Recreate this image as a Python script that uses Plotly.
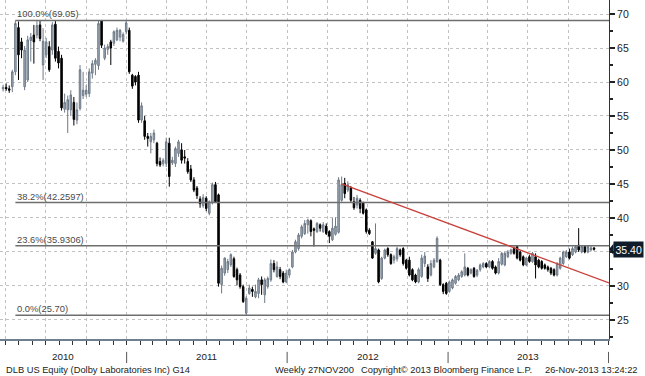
import plotly.graph_objects as go
import pandas as pd

# ---------------- data (weekly OHLC) ----------------
END_DATE = "2013-11-29"

OPEN = [
    59.0, 59.2, 59.0, 59.3, 61.5, 68.0, 65.9, 59.3, 60.3, 66.1, 66.9, 66.9, 68.4, 62.5, 64.0, 65.2,
    64.7, 68.5, 64.5, 63.5, 56.0, 55.9, 55.9, 57.0, 54.4, 56.1, 58.0, 58.2, 58.3, 61.3, 62.6, 62.4,
    69.0, 63.5, 64.8, 65.9, 65.7, 66.2, 66.6, 66.0, 67.4, 67.6, 61.0, 60.8, 61.0, 54.4, 54.3, 52.0,
    51.2, 51.5, 51.0, 48.3, 48.0, 48.0, 51.0, 48.1, 48.0, 49.5, 50.0, 49.0, 48.3, 47.2, 45.6, 44.4,
    42.8, 41.8, 42.9, 40.7, 42.2, 44.9, 43.4, 30.2, 31.9, 32.4, 33.1, 34.0, 32.4, 31.6, 29.9, 26.0,
    28.9, 29.5, 28.4, 28.9, 30.9, 28.7, 29.9, 30.9, 33.3, 31.4, 32.4, 31.9, 30.6, 31.6, 32.8, 35.0,
    35.5, 37.3, 37.7, 39.0, 39.6, 38.4, 38.0, 39.0, 38.0, 38.8, 38.0, 36.8, 37.6, 37.9, 42.6, 45.1,
    44.1, 44.4, 42.4, 41.9, 42.6, 42.2, 41.2, 38.2, 36.5, 34.8, 35.3, 31.1, 34.1, 35.5, 34.6, 33.8,
    34.0, 35.3, 35.5, 33.8, 33.8, 32.4, 31.6, 30.6, 31.4, 33.3, 32.8, 31.6, 32.8, 33.6, 33.8, 30.2,
    30.4, 29.2, 29.7, 30.4, 30.9, 31.4, 31.6, 32.6, 31.9, 32.6, 31.6, 32.4, 32.8, 33.3, 32.8, 33.6,
    32.8, 31.9, 33.2, 33.1, 34.3, 34.8, 35.5, 35.8, 35.0, 34.3, 33.1, 34.3, 33.6, 34.3, 33.8, 33.6,
    33.1, 32.8, 32.6, 32.4, 31.6, 32.6, 33.3, 34.3, 35.0, 34.6, 35.0, 36.0, 35.0, 35.8, 35.0, 35.3,
    35.6,
]
HIGH = [
    59.6, 59.8, 59.5, 61.8, 69.05, 68.9, 66.5, 65.3, 66.8, 67.2, 68.4, 69.05, 69.0, 67.9, 66.5, 66.0,
    68.8, 69.05, 65.2, 64.0, 58.3, 58.0, 58.8, 57.8, 57.0, 62.5, 61.5, 59.5, 62.0, 63.2, 63.5, 69.05,
    69.05, 65.5, 65.6, 66.2, 67.6, 68.0, 67.8, 67.3, 69.05, 68.0, 61.2, 61.0, 61.5, 57.0, 55.0, 52.5,
    52.5, 53.0, 51.2, 48.9, 48.8, 51.8, 51.8, 49.0, 50.5, 51.5, 51.0, 50.0, 48.8, 47.8, 46.0, 44.7,
    43.2, 43.5, 43.2, 42.6, 45.2, 45.3, 43.6, 33.0, 34.2, 34.0, 34.8, 34.3, 32.7, 31.9, 30.2, 28.5,
    30.2, 29.9, 30.2, 31.2, 31.4, 31.2, 31.4, 33.9, 33.8, 33.6, 32.8, 32.2, 32.4, 32.6, 35.3, 36.8,
    37.8, 39.0, 39.7, 39.9, 39.8, 38.6, 39.4, 39.2, 39.4, 39.2, 38.2, 40.0, 40.1, 46.0, 46.1, 45.9,
    45.4, 44.7, 43.1, 43.4, 42.9, 42.4, 41.4, 38.5, 36.6, 39.2, 35.5, 34.3, 35.5, 35.7, 34.8, 34.6,
    35.8, 35.5, 35.7, 34.0, 34.3, 32.6, 31.8, 32.7, 34.6, 35.0, 33.2, 33.8, 34.1, 37.3, 34.0, 30.4,
    30.6, 30.8, 31.1, 31.6, 31.9, 32.3, 34.8, 32.8, 32.6, 32.8, 32.5, 33.3, 33.5, 33.5, 33.8, 33.8,
    33.0, 34.1, 35.0, 35.0, 35.3, 35.5, 35.8, 36.0, 35.2, 34.5, 34.3, 34.6, 35.0, 34.8, 34.0, 33.8,
    33.3, 33.0, 32.8, 32.6, 33.5, 34.3, 35.2, 35.3, 35.5, 35.8, 36.0, 38.5, 36.0, 36.0, 36.0, 36.0,
    35.7,
]
LOW = [
    58.6, 58.7, 58.4, 58.5, 61.0, 60.3, 63.5, 58.8, 60.0, 63.0, 62.7, 66.4, 66.0, 60.3, 63.5, 61.5,
    64.0, 63.0, 62.0, 55.8, 55.5, 52.5, 55.0, 53.6, 53.8, 55.8, 57.5, 57.8, 57.8, 60.5, 61.0, 61.8,
    65.0, 63.2, 64.0, 62.5, 65.3, 66.0, 66.0, 65.8, 67.0, 61.2, 59.0, 59.5, 54.0, 54.0, 51.5, 50.5,
    49.5, 51.0, 47.6, 47.5, 47.6, 47.5, 44.6, 47.8, 47.5, 49.0, 48.0, 48.0, 46.5, 45.3, 43.8, 42.8,
    41.5, 41.5, 41.0, 40.4, 42.0, 42.2, 29.9, 28.9, 31.5, 31.9, 32.8, 31.2, 30.1, 29.6, 27.5, 25.7,
    28.7, 28.4, 28.2, 28.2, 28.7, 27.5, 29.6, 30.6, 32.0, 31.2, 31.0, 30.4, 30.4, 31.2, 32.6, 34.8,
    35.2, 37.0, 37.5, 37.7, 37.3, 35.8, 37.8, 38.0, 37.8, 37.5, 36.3, 36.6, 37.4, 37.7, 42.4, 42.9,
    43.8, 42.2, 41.2, 41.4, 40.7, 40.5, 37.7, 37.5, 34.0, 34.6, 30.4, 30.9, 33.9, 34.3, 33.1, 33.3,
    33.6, 34.3, 33.0, 32.4, 31.4, 30.7, 30.4, 30.4, 31.2, 32.8, 30.6, 31.4, 32.6, 33.4, 30.0, 28.8,
    28.7, 29.0, 29.5, 30.2, 30.7, 31.2, 31.4, 31.4, 31.7, 31.2, 31.3, 32.1, 32.6, 32.6, 32.6, 32.4,
    31.7, 31.7, 33.0, 32.9, 34.1, 34.6, 34.6, 33.9, 33.6, 32.9, 32.9, 33.4, 33.4, 31.1, 32.6, 32.4,
    32.4, 32.1, 31.6, 31.4, 31.4, 32.4, 33.1, 34.1, 33.9, 34.4, 34.8, 35.0, 34.8, 34.8, 34.8, 35.1,
    35.2,
]
CLOSE = [
    59.2, 59.0, 58.8, 61.5, 68.6, 64.0, 64.7, 64.7, 66.2, 66.6, 65.9, 68.3, 66.4, 66.0, 65.9, 61.8,
    68.4, 63.5, 62.8, 56.2, 57.0, 57.4, 58.1, 54.5, 55.9, 61.8, 58.8, 58.8, 61.5, 62.7, 63.2, 68.6,
    65.4, 65.0, 65.2, 65.0, 67.4, 67.6, 67.6, 67.0, 68.7, 61.5, 59.4, 60.0, 54.4, 56.5, 52.0, 51.7,
    52.0, 52.5, 48.0, 47.8, 48.5, 51.2, 46.1, 48.5, 50.2, 51.2, 48.5, 48.8, 46.8, 45.6, 44.1, 43.3,
    42.1, 43.0, 41.4, 42.4, 44.9, 42.4, 30.4, 32.6, 34.1, 33.6, 34.6, 31.4, 30.9, 29.9, 27.7, 28.2,
    29.7, 29.2, 29.2, 30.9, 30.2, 30.9, 31.1, 33.3, 32.4, 32.8, 31.4, 30.6, 31.9, 32.4, 35.0, 36.5,
    37.5, 38.7, 39.2, 39.7, 38.0, 38.2, 39.2, 38.5, 39.0, 37.7, 37.3, 38.5, 38.8, 45.6, 44.9, 43.6,
    44.9, 42.6, 41.5, 42.9, 41.4, 40.7, 38.0, 37.7, 34.1, 35.5, 30.6, 34.1, 35.3, 34.6, 33.3, 34.3,
    35.5, 34.6, 33.3, 32.6, 31.6, 30.9, 30.6, 32.4, 34.1, 34.4, 31.1, 33.3, 33.8, 37.0, 30.2, 29.2,
    28.9, 30.6, 30.9, 31.4, 31.6, 32.1, 32.8, 31.6, 32.4, 31.4, 32.3, 33.1, 33.3, 32.8, 33.6, 32.6,
    31.9, 33.6, 34.8, 34.8, 35.0, 35.3, 34.8, 34.1, 33.8, 33.1, 34.1, 33.6, 34.8, 33.1, 32.8, 32.6,
    32.6, 32.4, 31.9, 31.6, 33.3, 34.1, 35.0, 35.0, 34.1, 35.5, 35.8, 35.3, 35.8, 35.0, 35.8, 35.6,
    35.4,
]

FIB_HIGH = 69.05
FIB_LOW = 25.70
FIB_RATIOS = [1.0, 0.382, 0.236, 0.0]
FIB_START = "2010-04-23"

TREND_X = ["2012-05-04", "2014-01-02"]
TREND_Y = [45.0, 30.45]

LAST_PRICE = 35.40
YEARS = [2010, 2011, 2012, 2013]
Y_TICKS = [25, 30, 35, 40, 45, 50, 55, 60, 65, 70]
X_RANGE = ["2010-03-19", "2014-01-02"]
Y_RANGE = [22.2, 72.06]

FOOTER_LEFT = "DLB US Equity (Dolby Laboratories Inc) G14"
FOOTER_MID = "Weekly 27NOV200"
FOOTER_COPY = "Copyright\u00a9 2013 Bloomberg Finance L.P."
FOOTER_RIGHT = "26-Nov-2013 13:24:22"

FONT = "Liberation Sans, Arial, sans-serif"

# ---------------- figure ----------------
dates = pd.date_range(end=END_DATE, periods=len(CLOSE), freq="W-FRI")

fig = go.Figure()

# Fibonacci retracement lines
for r in FIB_RATIOS:
    lvl = FIB_LOW + r * (FIB_HIGH - FIB_LOW)
    fig.add_trace(go.Scatter(x=[FIB_START, X_RANGE[1]], y=[lvl, lvl], mode="lines",
                             line=dict(color="#6e6e6e", width=1.5), hoverinfo="skip",
                             showlegend=False))
    txt = f"{r*100:.1f}%({lvl:.2f})" if r in (0.0, 1.0) else f"{r*100:.1f}%({lvl:.4f})"
    fig.add_annotation(x=FIB_START, y=lvl, xref="x", yref="y", text=txt, showarrow=False,
                       xanchor="left", yanchor="bottom", xshift=0, yshift=-1,
                       font=dict(family=FONT, size=9.4, color="#4a4a4a"))

fig.add_trace(go.Candlestick(
    x=dates, open=OPEN, high=HIGH, low=LOW, close=CLOSE,
    increasing=dict(line=dict(color="#6d7986", width=1), fillcolor="#a2afbc"),
    decreasing=dict(line=dict(color="#000000", width=1), fillcolor="#000000"),
    whiskerwidth=0, showlegend=False, hoverinfo="skip"))

# trend line
fig.add_trace(go.Scatter(x=TREND_X, y=TREND_Y, mode="lines",
                         line=dict(color="#c8413b", width=1.3), hoverinfo="skip",
                         showlegend=False))

# year labels centred in each visible year span, separators at year boundaries
x0 = pd.Timestamp(X_RANGE[0]); x1 = pd.Timestamp(X_RANGE[1])
for yr in YEARS:
    a = max(pd.Timestamp(f"{yr}-01-01"), x0)
    b = min(pd.Timestamp(f"{yr+1}-01-01"), x1)
    mid = a + (b - a) / 2
    fig.add_annotation(x=mid, y=-0.053, xref="x", yref="paper", text=str(yr),
                       showarrow=False, yanchor="middle",
                       font=dict(family=FONT, size=9.8, color="#222"))
    boundary = pd.Timestamp(f"{yr+1}-01-01")
    if boundary <= x1:
        fig.add_shape(type="line", xref="x", yref="paper", x0=boundary, x1=boundary,
                      y0=-0.038, y1=-0.071, line=dict(color="#555", width=1))

# footer
fy = -0.0915
for xx, txt, anc in [(0.006, FOOTER_LEFT, "left"), (0.448, FOOTER_MID, "left"),
                     (0.590, FOOTER_COPY, "left"), (1.051, FOOTER_RIGHT, "right")]:
    fig.add_annotation(x=xx, y=fy, xref="paper", yref="paper", text=txt, showarrow=False,
                       xanchor=anc, yanchor="middle",
                       font=dict(family=FONT, size=9.3, color="#222"))

# last price tag (covers the 35 label as in the original)
fig.add_shape(type="path", xref="paper", yref="y",
              path=f"M 1.0,{LAST_PRICE} L 1.0075,{LAST_PRICE+0.85} L 1.0075,{LAST_PRICE-0.85} Z",
              fillcolor="#111c2a", line=dict(width=0))
fig.add_annotation(x=1.0, y=LAST_PRICE, xref="paper", yref="y", text=f"{LAST_PRICE:.2f}",
                   showarrow=False, xanchor="left", yanchor="middle", xshift=4,
                   bgcolor="#111c2a", borderpad=1.5,
                   font=dict(family=FONT, size=10.5, color="white"))

tick_text = ["" if abs(v - LAST_PRICE) < 1.5 else str(v) for v in Y_TICKS]

fig.update_layout(
    width=645, height=376, margin=dict(l=0, r=36, t=0, b=37),
    paper_bgcolor="white", plot_bgcolor="white", showlegend=False,
    xaxis=dict(type="date", range=X_RANGE, rangeslider=dict(visible=False),
               tick0="2010-01-01", dtick="M3", showgrid=True, gridcolor="#c2c2c2",
               griddash="dot", gridwidth=1, showticklabels=False,
               ticks="outside", ticklen=4, tickcolor="#333", tickwidth=1,
               minor=dict(dtick="M1", tick0="2010-01-01", ticks="outside", ticklen=4,
                          tickcolor="#333", showgrid=False),
               showline=True, linecolor="#6f7f8f", linewidth=2, zeroline=False),
    yaxis=dict(side="right", range=Y_RANGE, tickmode="array", tickvals=Y_TICKS,
               ticktext=tick_text, showgrid=True,
               gridcolor="#c2c2c2", griddash="dot", gridwidth=1,
               ticks="outside", ticklen=5, tickwidth=2, tickcolor="#222",
               minor=dict(dtick=2.5, tick0=0, ticks="outside", ticklen=3, tickcolor="#222"),
               showline=True, linecolor="#333", linewidth=1, zeroline=False,
               tickfont=dict(family=FONT, size=10.5, color="#222")),
)

fig.write_html("out.html", config={"displayModeBar": False},
               post_script="document.body.style.margin='0px';")
